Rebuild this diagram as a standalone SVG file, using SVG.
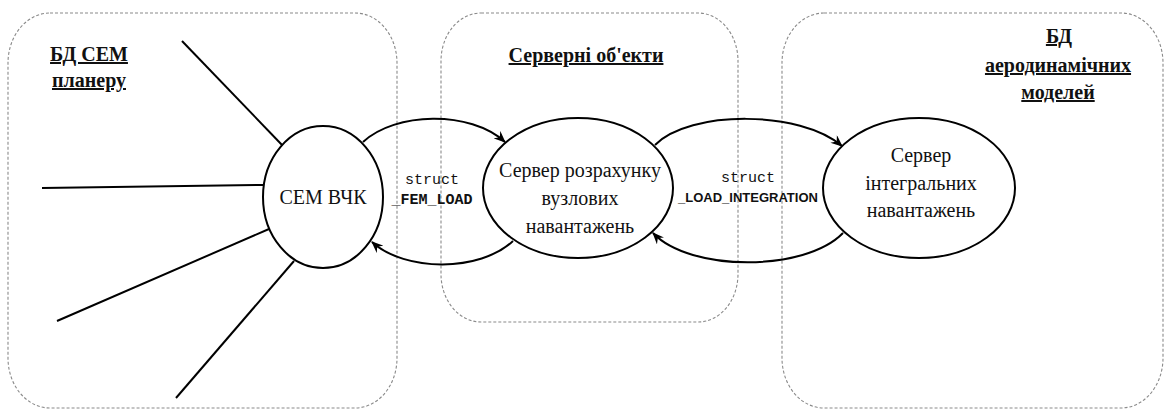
<svg xmlns="http://www.w3.org/2000/svg" width="1165" height="410" viewBox="0 0 1165 410">
<style>
.region{fill:none;stroke:#8a8a8a;stroke-width:1.1;stroke-dasharray:3 2}
.node{fill:#fff;stroke:#000;stroke-width:2}
.edge{fill:none;stroke:#000;stroke-width:2}
.ntext{font-family:'Liberation Serif',serif;font-size:20px;fill:#111;text-anchor:middle}
.title{font-family:'Liberation Serif',serif;font-size:20px;font-weight:bold;fill:#111;text-anchor:middle;text-decoration:underline}
.mono{font-family:'Liberation Mono',monospace;font-size:15px;fill:#111;text-anchor:middle}
.sans{font-family:'Liberation Sans',sans-serif;font-size:13px;font-weight:bold;fill:#111;text-anchor:middle}
</style>
<defs>
<marker id="vee" viewBox="0 0 12 10" refX="11" refY="5" markerWidth="12" markerHeight="10" markerUnits="userSpaceOnUse" orient="auto">
<path d="M0,0 L12,5 L0,10 L4,5 z" fill="#000"/>
</marker>
</defs>
<g id="regions">
<rect class="region" x="8" y="13" width="389" height="395" rx="42" ry="50"/>
<rect class="region" x="441" y="13" width="297" height="309" rx="40" ry="48"/>
<rect class="region" x="782" y="13" width="381" height="395" rx="42" ry="50"/>
</g>
<g id="titles">
<text class="title" font-family="Liberation Serif" x="89" y="61">БД СЕМ</text>
<text class="title" font-family="Liberation Serif" x="89" y="87">планеру</text>
<text class="title" font-family="Liberation Serif" x="586" y="62">Серверні об'екти</text>
<text class="title" font-family="Liberation Serif" x="1059" y="43">БД</text>
<text class="title" font-family="Liberation Serif" x="1058" y="72">аеродинамічних</text>
<text class="title" font-family="Liberation Serif" x="1058" y="99">моделей</text>
</g>
<g id="connectors">
<line class="edge" x1="182" y1="41" x2="283" y2="146"/>
<line class="edge" x1="42" y1="188" x2="263" y2="185"/>
<line class="edge" x1="57" y1="321" x2="269" y2="229"/>
<line class="edge" x1="176" y1="398" x2="294" y2="261"/>
<path class="edge" d="M363,142 C395,112 470,110 505,142" marker-end="url(#vee)"/>
<path class="edge" d="M513,241 C480,272 405,272 372,242" marker-end="url(#vee)"/>
<path class="edge" d="M655,145 C690,110 800,110 842,146" marker-end="url(#vee)"/>
<path class="edge" d="M843,233 C805,272 690,272 653,233" marker-end="url(#vee)"/>
<text class="mono" font-family="Liberation Mono" x="432" y="184">struct</text>
<text class="mono" font-family="Liberation Mono" x="432" y="204" font-weight="bold">_FEM_LOAD</text>
<text class="mono" font-family="Liberation Mono" x="748" y="182">struct</text>
<text class="sans" font-family="Liberation Sans" x="748" y="202">_LOAD_INTEGRATION</text>
</g>
<g id="node-fem">
<ellipse class="node" cx="323" cy="197" rx="60" ry="71"/>
<text class="ntext" font-family="Liberation Serif" x="323" y="204">СЕМ ВЧК</text>
</g>
<g id="node-load-server">
<ellipse class="node" cx="578" cy="188" rx="95" ry="70"/>
<text class="ntext" font-family="Liberation Serif" x="580" y="177">Сервер розрахунку</text>
<text class="ntext" font-family="Liberation Serif" x="580" y="205">вузлових</text>
<text class="ntext" font-family="Liberation Serif" x="580" y="233">навантажень</text>
</g>
<g id="node-integral-server">
<ellipse class="node" cx="919" cy="188" rx="96" ry="70"/>
<text class="ntext" font-family="Liberation Serif" x="921" y="162">Сервер</text>
<text class="ntext" font-family="Liberation Serif" x="921" y="190">інтегральних</text>
<text class="ntext" font-family="Liberation Serif" x="921" y="217">навантажень</text>
</g>
</svg>
